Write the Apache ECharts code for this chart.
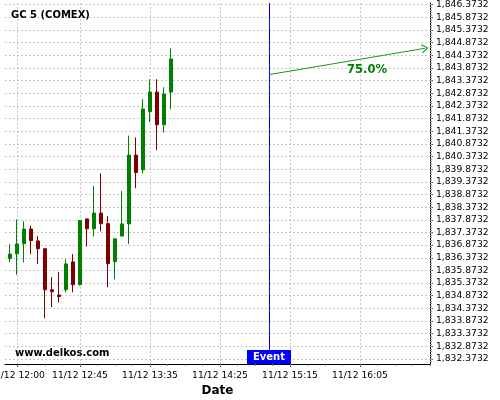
<!DOCTYPE html>
<html>
<head>
<meta charset="utf-8">
<script src="https://cdn.jsdelivr.net/npm/echarts@6/dist/echarts.min.js"></script>
<style>html,body{margin:0;padding:0;background:#fff;}#c{width:500px;height:400px;}</style>
</head>
<body>
<div id="c"></div>
<script>
// ---- data ----
const times = ['11:55','12:00','12:05','12:10','12:15','12:20','12:25','12:30','12:35','12:40','12:45','12:50',
               '12:55','13:00','13:05','13:10','13:15','13:20','13:25','13:30','13:35','13:40','13:45','13:50'];
const open  = [1836.34,1836.53,1836.93,1837.51,1837.04,1836.73,1835.11,1834.90,1835.11,1836.21,1835.31,1837.91,
               1837.52,1838.14,1837.72,1836.22,1837.23,1837.71,1840.43,1839.85,1842.15,1842.92,1841.63,1842.92];
const close = [1836.52,1836.92,1837.51,1837.05,1836.73,1835.11,1835.03,1834.84,1836.13,1835.31,1837.84,1837.52,
               1838.14,1837.72,1836.14,1837.12,1837.71,1840.43,1839.74,1842.25,1842.92,1841.63,1842.84,1844.23];
const low   = [1836.19,1835.70,1836.19,1836.51,1836.12,1833.98,1834.42,1834.61,1835.01,1835.01,1835.28,1836.82,
               1837.21,1837.42,1835.21,1835.52,1837.22,1836.91,1839.12,1839.71,1841.73,1840.62,1841.32,1842.24];
const high  = [1836.91,1837.89,1837.81,1837.63,1837.23,1836.73,1835.61,1835.81,1836.31,1836.52,1837.87,1837.92,
               1839.21,1839.71,1838.02,1837.13,1839.01,1841.20,1841.13,1842.64,1843.43,1843.43,1843.11,1844.65];

const xTickLabels = ['12:00','12:45','13:35','14:25','15:15','16:05'];
const yTickBase = 1832.3732, yTickStep = 0.5, yTickCount = 29;
const eventTime = '15:00';
const arrowStart = ['15:00', 1843.61];
const arrowEnd = ['16:51.4', 1844.65];
const arrowText = '75.0%';
const arrowTextAt = ['16:10', 1843.79];
const titleText = 'GC 5 (COMEX)';
const siteText = 'www.delkos.com';
const datePrefix = '11/12 ';

// ---- helpers ----
function toMin(t){ const p=t.split(':'); return (+p[0])*60 + parseFloat(p[1]); }
function fmtMin(m){ const h=Math.floor(m/60), mm=Math.round(m-h*60); return datePrefix + (h<10?'0':'')+h+':'+(mm<10?'0':'')+mm; }
function fmtY(v){ const s=v.toFixed(4); const parts=s.split('.'); return parts[0].replace(/\B(?=(\d{3})+(?!\d))/g, ',')+'.'+parts[1]; }

const X_MIN = 711.43, X_MAX = 1015;
const Y_MIN = 1832.1756, Y_MAX = 1846.44;
const FONT = 'DejaVu Sans';

const xTicks = xTickLabels.map(toMin);
const xMinor = [];
for (let m = toMin('12:45') - 12.5*3; m <= X_MAX; m += 12.5) xMinor.push(m);
const yTicks = [];
for (let i = 0; i < yTickCount; i++) yTicks.push(+(yTickBase + i*yTickStep).toFixed(4));
const yMinor = [];
for (let i = -1; i < (yTickCount-1)*5 + 1; i++) yMinor.push(+(yTickBase + i*0.1).toFixed(4));

const candleData = times.map((t,i) => [toMin(t), open[i], close[i], low[i], high[i]]);

const chart = echarts.init(document.getElementById('c'), null, {renderer:'canvas'});
chart.setOption({
  animation: false,
  backgroundColor: '#ffffff',
  title: { text: titleText, left: 11, top: 10, padding: 0,
    textStyle: { fontFamily: FONT, fontSize: 10, fontWeight: 'bold', color: '#000' } },
  graphic: [
    { type: 'text', left: 15, top: 348, z: 100,
      style: { text: siteText, font: 'bold 10px "DejaVu Sans"', fill: '#000' } }
  ],
  grid: { left: 5, right: 70, top: 3, bottom: 36, containLabel: false, outerBoundsMode: 'none' },
  xAxis: [
    { type: 'value', min: X_MIN, max: X_MAX, position: 'bottom',
      name: 'Date', nameLocation: 'middle', nameGap: 18,
      nameTextStyle: { fontFamily: FONT, fontSize: 12, fontWeight: 'bold', color: '#000' },
      axisLine: { show: true, onZero: false, lineStyle: { color: '#000', width: 1 } },
      axisTick: { show: true, customValues: xTicks, length: 3, lineStyle: { color: '#555' } },
      axisLabel: { show: true, customValues: xTicks, formatter: v => fmtMin(v), margin: 7,
        fontFamily: FONT, fontSize: 9.2, color: '#000' },
      splitLine: { show: true, lineStyle: { color: '#c8c8c8', width: 1, type: [2, 2] } } },
    { type: 'value', min: X_MIN, max: X_MAX, position: 'bottom',
      axisLine: { show: false },
      axisTick: { show: true, customValues: xMinor, length: 2, lineStyle: { color: '#777' } },
      axisLabel: { show: false }, splitLine: { show: false } }
  ],
  yAxis: [
    { type: 'value', min: Y_MIN, max: Y_MAX, position: 'right',
      axisLine: { show: true, lineStyle: { color: '#000', width: 1 } },
      axisTick: { show: true, customValues: yTicks, length: 3, lineStyle: { color: '#555' } },
      axisLabel: { show: true, customValues: yTicks, formatter: v => fmtY(v), margin: 6,
        fontFamily: FONT, fontSize: 9.2, color: '#000' },
      splitLine: { show: true, lineStyle: { color: '#c8c8c8', width: 1, type: [2, 2] } } },
    { type: 'value', min: Y_MIN, max: Y_MAX, position: 'right',
      axisLine: { show: false },
      axisTick: { show: true, customValues: yMinor, length: 2, lineStyle: { color: '#999' } },
      axisLabel: { show: false }, splitLine: { show: false } }
  ],
  series: [{
    type: 'candlestick',
    xAxisIndex: 0, yAxisIndex: 0,
    encode: { x: 0, y: [1, 2, 3, 4] },
    barWidth: 4,
    data: candleData,
    itemStyle: { color: '#008000', color0: '#800000', borderColor: '#008000', borderColor0: '#800000', borderWidth: 1 },
    markLine: {
      silent: true, animation: false,
      data: [
        { xAxis: toMin(eventTime), symbol: 'none', lineStyle: { color: '#0000ff', width: 1, type: 'solid' }, label: { show: false } },
        [
          { coord: [toMin(arrowStart[0]), arrowStart[1]], symbol: 'none' },
          { coord: [toMin(arrowEnd[0]), arrowEnd[1]], symbol: 'path://M5,0 L10,9 L9,10 L5,2.5 L1,10 L0,9 Z', symbolSize: [9, 7],
            lineStyle: { color: '#139a13', width: 1, type: 'solid' }, label: { show: false } }
        ]
      ],
      symbol: ['none', 'none'],
      lineStyle: { color: '#139a13', width: 1, type: 'solid' },
      label: { show: false }
    },
    markPoint: {
      silent: true, animation: false,
      symbol: 'circle', symbolSize: 0,
      itemStyle: { color: 'rgba(0,0,0,0)' },
      data: [
        { coord: [toMin(eventTime), Y_MIN],
          label: { show: true, formatter: 'Event', position: 'top', distance: 0,
            backgroundColor: '#0000ff', color: '#fff', fontFamily: FONT, fontSize: 10, fontWeight: 'bold',
            lineHeight: 12, padding: [1, 6, 1, 6] } },
        { coord: [toMin(arrowTextAt[0]), arrowTextAt[1]],
          label: { show: true, formatter: arrowText, position: 'inside',
            color: '#008000', fontFamily: FONT, fontSize: 11.5, fontWeight: 'bold' } }
      ]
    }
  }]
});
</script>
</body>
</html>
